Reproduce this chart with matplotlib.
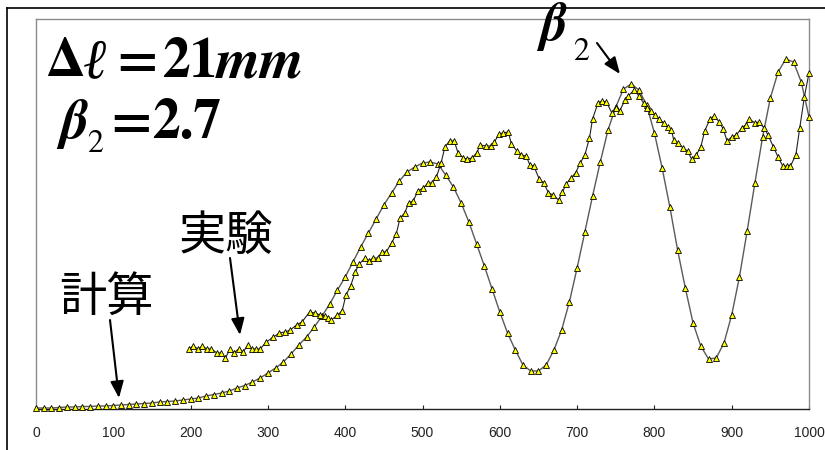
import matplotlib
matplotlib.use('Agg')
import matplotlib.pyplot as plt
from matplotlib.lines import Line2D
from matplotlib.patches import ArrowStyle

W, H = 825, 450

# ---- data -------------------------------------------------------------
calc_x = list(range(0, 1001, 10))
calc_y = [1, 1, 1, 1.5, 2, 2, 2.5, 2.5, 3, 3,
          3.5, 4, 4.5, 5, 5.5, 6, 7, 7.5, 8, 9,
          10, 11, 13, 14.5, 16, 18, 21, 23.5, 27, 31,
          36, 41, 47, 55, 64, 72, 82, 93, 105, 119,
          132, 147, 162, 176, 190, 204, 216, 228, 237, 242,
          246, 247, 245, 234, 222, 206, 187, 165, 143, 120,
          97, 76, 59, 44, 38, 38, 44, 59, 79, 107,
          141, 177, 213, 247, 279, 302, 320, 325, 319, 304,
          276, 241, 202, 159, 121, 86, 63, 50, 51, 66,
          94, 132, 178, 226, 272, 311, 337, 350, 347, 327,
          292]

exp_x = [198, 203, 210, 215, 221, 227, 234, 239, 245, 251,
         256, 262, 268, 274, 279, 285, 290, 298, 307, 315,
         322, 329, 337, 344, 354, 361, 367, 374, 378, 382,
         390, 396, 401, 407, 413, 418, 426, 431, 436, 442,
         448, 453, 460, 466, 471, 477, 482, 488, 494, 501,
         507, 512, 518, 524, 529, 535, 541, 546, 553, 558,
         564, 570, 575, 582, 588, 593, 599, 604, 611, 615,
         622, 628, 634, 639, 644, 651, 657, 663, 669, 676,
         681, 686, 692, 698, 704, 710, 716, 720, 727, 732,
         738, 745, 750, 755, 762, 766, 774, 780, 786, 790,
         795, 801, 806, 812, 817, 822, 825, 831, 837, 843,
         848, 854, 860, 865, 872, 877, 884, 889, 894, 900,
         906, 913, 918, 923, 930, 935, 942, 947, 954, 960,
         966, 971, 976, 983, 988, 994, 1000]
exp_y = [60, 63, 60, 63, 60, 60, 56, 56, 51, 60,
         56, 60, 57, 64, 60, 60, 60, 67, 72, 76,
         77, 79, 84, 87, 97, 96, 94, 93, 91, 89,
         94, 98, 114, 123, 137, 145, 151, 148, 151, 151,
         157, 157, 166, 175, 191, 196, 206, 208, 218, 221,
         226, 226, 232, 246, 262, 268, 268, 256, 251, 250,
         251, 256, 264, 263, 263, 267, 275, 276, 277, 265,
         258, 254, 253, 244, 243, 230, 226, 216, 214, 209,
         217, 225, 231, 236, 246, 254, 271, 290, 306, 308,
         307, 296, 301, 298, 309, 313, 319, 313, 306, 301,
         298, 294, 290, 286, 282, 279, 269, 266, 261, 258,
         250, 254, 262, 278, 290, 293, 287, 280, 268, 272,
         274, 281, 284, 290, 286, 287, 281, 274, 262, 252,
         243, 243, 243, 254, 281, 312, 336]

xticks = [0, 100, 200, 300, 400, 500, 600, 700, 800, 900, 1000]

# ---- figure -----------------------------------------------------------
fig = plt.figure(figsize=(W / 100, H / 100), dpi=100)
fig.patch.set_facecolor('white')

ax = fig.add_axes([36 / W, 1 - 409 / H, (809 - 36) / W, (409 - 19) / H])
mk = dict(marker='^', ms=4.8, mfc='#ffff00', mec='black', mew=0.6, clip_on=False)
ax.plot(calc_x, calc_y, color='#5a5a5a', lw=1.0, zorder=3, **mk)
ax.plot(exp_x, exp_y, color='#222222', lw=0.8, zorder=4, **mk)

ax.set_xlim(0, 1000)
ax.set_ylim(0, 390)
ax.set_xticks(xticks)
ax.set_xticklabels([str(t) for t in xticks], family=['Liberation Sans', 'DejaVu Sans'])
ax.set_yticks([])
ax.tick_params(axis='x', direction='in', length=3, width=0.8, pad=12,
               labelsize=10, labelcolor='#222222', color='#222222')
for s in ['left', 'top', 'right']:
    ax.spines[s].set_color('#8c8c8c')
    ax.spines[s].set_linewidth(1.0)
ax.spines['bottom'].set_color('#222222')
ax.spines['bottom'].set_linewidth(1.0)

# outer frame
fig.add_artist(Line2D([7 / W, 7 / W], [0, 1 - 8 / H], transform=fig.transFigure,
                      color='black', lw=1.2))
fig.add_artist(Line2D([7 / W, 1], [1 - 8 / H, 1 - 8 / H], transform=fig.transFigure,
                      color='black', lw=1.2))

SERIF = ['STIXGeneral', 'Liberation Serif', 'DejaVu Serif']
LSERIF = ['Liberation Serif', 'STIXGeneral', 'DejaVu Serif']
CJK = ['Noto Sans CJK JP', 'DejaVu Sans']


def ftext(x, y, s, **kw):
    kw.setdefault('va', 'baseline')
    kw.setdefault('ha', 'left')
    fig.text(x / W, 1 - y / H, s, **kw)


bold = dict(family=SERIF, weight='bold', size=40)
# Δℓ = 21mm
ftext(45, 77, 'Δ', **bold)
ftext(83, 77, 'ℓ', family=LSERIF, style='italic', size=40)
ftext(116, 77, '=', **bold)
ftext(162, 77, '21', **bold)
ftext(216, 77, 'mm', family=SERIF, weight='bold', style='italic', size=41)
# β2 = 2.7
ftext(60, 138, 'β', family=SERIF, weight='bold', style='italic', size=40)
ftext(87, 152, '2', family=SERIF, size=23)
ftext(110, 138, '=', **bold)
ftext(152, 138, '2.7', **bold)
# β2 near the peak
ftext(540, 40, 'β', family=SERIF, weight='bold', style='italic', size=38)
ftext(573, 60, '2', family=SERIF, size=23)

# Japanese labels
ftext(179, 237, '実験', family=CJK, size=34, va='center')
ftext(59, 298, '計算', family=CJK, size=34, va='center')

# arrows
def arrow(x0, y0, x1, y1):
    fig.add_artist(matplotlib.patches.FancyArrowPatch(
        (x0 / W, 1 - y0 / H), (x1 / W, 1 - y1 / H), transform=fig.transFigure,
        arrowstyle=ArrowStyle('-|>', head_length=10, head_width=4),
        mutation_scale=1, color='black', lw=1.5, shrinkA=0, shrinkB=0))

arrow(110, 320, 119, 398)
arrow(230, 258, 240, 335)
arrow(597, 43, 620, 74)

fig.savefig('out.png', dpi=100)
